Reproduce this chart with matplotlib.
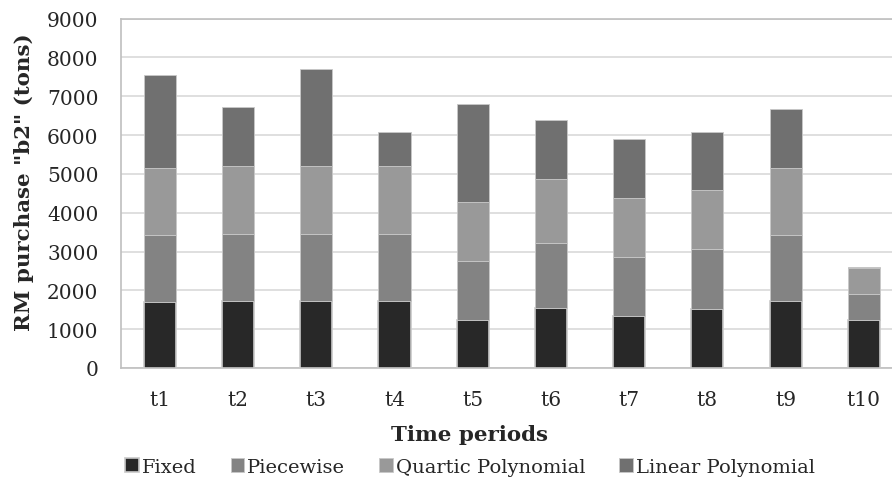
import numpy as np
import matplotlib
matplotlib.use("Agg")
import matplotlib.pyplot as plt

periods = ["t1", "t2", "t3", "t4", "t5", "t6", "t7", "t8", "t9", "t10"]
fixed = [1710, 1730, 1730, 1730, 1245, 1545, 1330, 1525, 1730, 1245]
piecewise = [1705, 1730, 1730, 1730, 1510, 1680, 1520, 1530, 1685, 650]
quartic = [1735, 1740, 1740, 1740, 1530, 1640, 1525, 1525, 1735, 670]
linear = [2400, 1510, 2510, 890, 2520, 1525, 1520, 1510, 1520, 40]

series = [("Fixed", fixed, "#282828"),
          ("Piecewise", piecewise, "#838383"),
          ("Quartic Polynomial", quartic, "#999999"),
          ("Linear Polynomial", linear, "#707070")]

plt.rcParams['font.family'] = ['DejaVu Serif']

fig = plt.figure(figsize=(8.92, 4.89), dpi=100)
ax = fig.add_axes([0.1353, 0.2454, 0.877, 0.7147])

x = np.arange(len(periods))
bottom = np.zeros(len(periods))
for name, vals, col in series:
    lw = 1.2 if name == "Fixed" else 0.6
    ax.bar(x, vals, width=0.41, bottom=bottom, color=col, label=name,
           edgecolor="#c8c8c8", linewidth=lw, zorder=3)
    bottom += np.array(vals)

ax.set_xlim(-0.5, len(periods) - 0.5)
ax.set_ylim(0, 9000)
ax.set_yticks(np.arange(0, 9001, 1000))
ax.set_xticks(x)
ax.set_xticklabels(periods)
ax.tick_params(axis="both", length=0, labelsize=14.5, colors="#262626")
ax.tick_params(axis="y", pad=16)
ax.tick_params(axis="x", pad=16)
ax.grid(axis="y", color="#d9d9d9", linewidth=1.2, zorder=0)
for s in ["left", "top", "bottom"]:
    ax.spines[s].set_color("#bfbfbf")
    ax.spines[s].set_linewidth(1.2)
ax.spines["right"].set_visible(False)

ax.set_xlabel("Time periods", fontsize=15.4, fontweight="bold", color="#262626")
ax.xaxis.set_label_coords(0.4465, -0.159)
ax.set_ylabel('RM purchase "b2" (tons)', fontsize=15.4, fontweight="bold", color="#262626")
ax.yaxis.set_label_coords(-0.111, 0.535)

ax.legend(loc="center", bbox_to_anchor=(0.4465, -0.283), ncol=4, frameon=False,
          fontsize=14, handlelength=0.7, handleheight=0.7, handletextpad=0.15,
          columnspacing=1.75, labelcolor="#262626")

fig.savefig("out.png", dpi=100)
